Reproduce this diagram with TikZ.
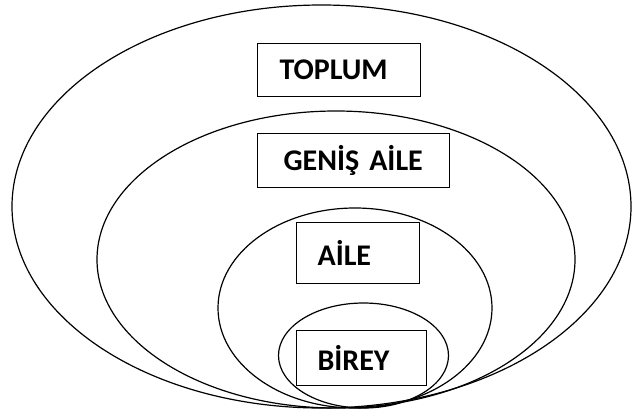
\documentclass[tikz,border=0pt]{standalone}
\usepackage{fontspec}
\setmainfont{Carlito}[BoldFont={Carlito Bold}]
\usetikzlibrary{shapes.geometric}
\tikzset{
  ring/.style={draw, ellipse, inner sep=0pt, line width=1.2pt},
  labelbox/.style={draw, rectangle, anchor=north west, line width=1.2pt,
    align=left, inner ysep=0pt, font=\fontsize{30}{32}\selectfont\bfseries}
}
\begin{document}
\begin{tikzpicture}[x=1pt,y=-1pt]
\useasboundingbox (0,0) rectangle (632,410);
\node[ring, minimum width=619pt, minimum height=403pt] (eToplum) at (321.5,206.5) {};
\node[ring, minimum width=478pt, minimum height=297pt] (eGenis) at (336,259.5) {};
\node[ring, minimum width=274pt, minimum height=200pt] (eAile) at (355,308) {};
\node[ring, minimum width=170pt, minimum height=105pt] (eBirey) at (363.5,355.5) {};
\node[labelbox, minimum height=53pt, inner xsep=22pt, text width=119pt] (bToplum) at (257,43) {TOPLUM};
\node[labelbox, minimum height=54pt, inner xsep=26pt, text width=140pt] (bGenis) at (257,133) {GENİŞ AİLE};
\node[labelbox, minimum height=61pt, inner xsep=21pt, text width=81pt] (bAile) at (296,222) {AİLE};
\node[labelbox, minimum height=55pt, inner xsep=21pt, text width=88pt] (bBirey) at (296,330) {BİREY};
\end{tikzpicture}
\end{document}
